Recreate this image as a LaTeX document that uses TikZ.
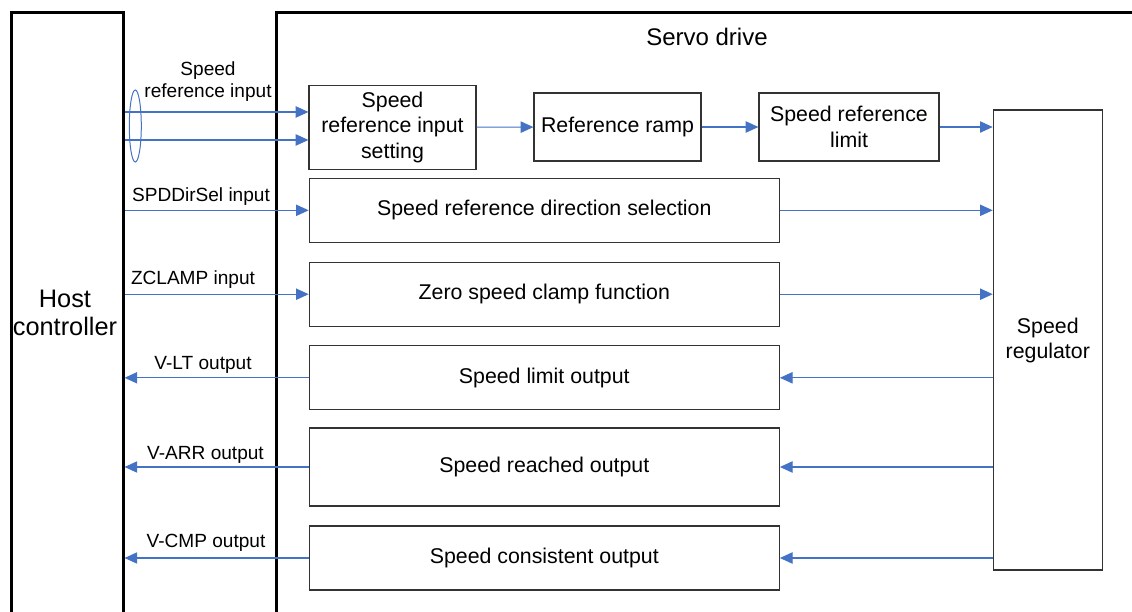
\documentclass[tikz,border=0pt]{standalone}
\usepackage{fontspec}
\setmainfont{Liberation Sans}
\usetikzlibrary{arrows.meta,shapes.geometric}
\definecolor{sigblue}{RGB}{68,114,196}
\begin{document}
\begin{tikzpicture}[x=0.75pt,y=-0.75pt,
  every node/.style={font=\fontsize{16}{19}\selectfont},
  unit/.style={draw,line width=2.25pt,minimum height=750pt,inner sep=0pt},
  blk/.style={draw=black!80,line width=0.9pt,align=center,inner sep=0pt},
  sig/.style={-{Triangle[length=9.5pt,width=8.5pt]},sigblue,line width=0.8pt},
  lbl/.style={font=\fontsize{14.3}{16.5}\selectfont,anchor=base}]
  \clip (0,0) rectangle (1132,611);
  \node[unit,minimum width=83.8pt] (host) at (67.2,512) {};
  \node[unit,minimum width=750pt] (drive) at (776.3,512) {};
  \node[font=\fontsize{19}{21}\selectfont,align=center] (hostname) at (65,313) {Host\\controller};
  \node[font=\fontsize{18}{21}\selectfont,anchor=base] (drivename) at (707,45) {Servo drive};
  \node[blk,minimum width=125.25pt,minimum height=63pt] (set) at (392.5,127.3) {Speed\\reference input\\setting};
  \node[blk,minimum width=125.25pt,minimum height=51pt] (ramp) at (617.5,127) {Reference ramp};
  \node[blk,minimum width=135pt,minimum height=51pt] (lim) at (849,127) {Speed reference\\limit};
  \node[blk,minimum width=352.5pt,minimum height=48pt] (dir) at (544.3,210.3) {Speed reference direction selection};
  \node[blk,minimum width=352.5pt,minimum height=48pt] (zcl) at (544.3,294.2) {Zero speed clamp function};
  \node[blk,minimum width=352.5pt,minimum height=48pt] (vlt) at (544.3,377.8) {Speed limit output};
  \node[blk,minimum width=352.5pt,minimum height=58.5pt] (arr) at (544.3,467) {Speed reached output};
  \node[blk,minimum width=352.5pt,minimum height=48pt] (cmp) at (544.3,558) {Speed consistent output};
  \node[blk,minimum width=81.75pt,minimum height=345pt,font=\fontsize{16}{18.75}\selectfont] (reg) at (1047.8,340) {Speed\\regulator};
  \node[ellipse,draw=sigblue,line width=0.75pt,minimum width=9pt,minimum height=54pt,inner sep=0pt] (bundle) at (135.3,126) {};
  \coordinate (in1) at ([yshift=11.5pt]set.west);
  \coordinate (in2) at ([yshift=-9.5pt]set.west);
  \draw[sig] (host.east |- in1) -- (in1);
  \draw[sig] (host.east |- in2) -- (in2);
  \draw[sig] (set) -- (ramp);
  \draw[sig] (ramp) -- (lim);
  \draw[sig] (lim.east) -- (reg.west |- lim.east);
  \draw[sig] (host.east |- dir.west) -- (dir.west);
  \draw[sig] (dir.east) -- (reg.west |- dir.east);
  \draw[sig] (host.east |- zcl.west) -- (zcl.west);
  \draw[sig] (zcl.east) -- (reg.west |- zcl.east);
  \draw[sig] (reg.west |- vlt.east) -- (vlt.east);
  \draw[sig] (vlt.west) -- (host.east |- vlt.west);
  \draw[sig] (reg.west |- arr.east) -- (arr.east);
  \draw[sig] (arr.west) -- (host.east |- arr.west);
  \draw[sig] (reg.west |- cmp.east) -- (cmp.east);
  \draw[sig] (cmp.west) -- (host.east |- cmp.west);
  \node[lbl,align=center,anchor=center] (refin) at (208,82) {Speed\\reference input};
  \node[lbl] (dirin) at (201,201) {SPDDirSel input};
  \node[lbl] (zclin) at (193,284) {ZCLAMP input};
  \node[lbl] (vltout) at (203,369) {V-LT output};
  \node[lbl] (arrout) at (205.5,459) {V-ARR output};
  \node[lbl] (cmpout) at (206,547) {V-CMP output};
\end{tikzpicture}
\end{document}
